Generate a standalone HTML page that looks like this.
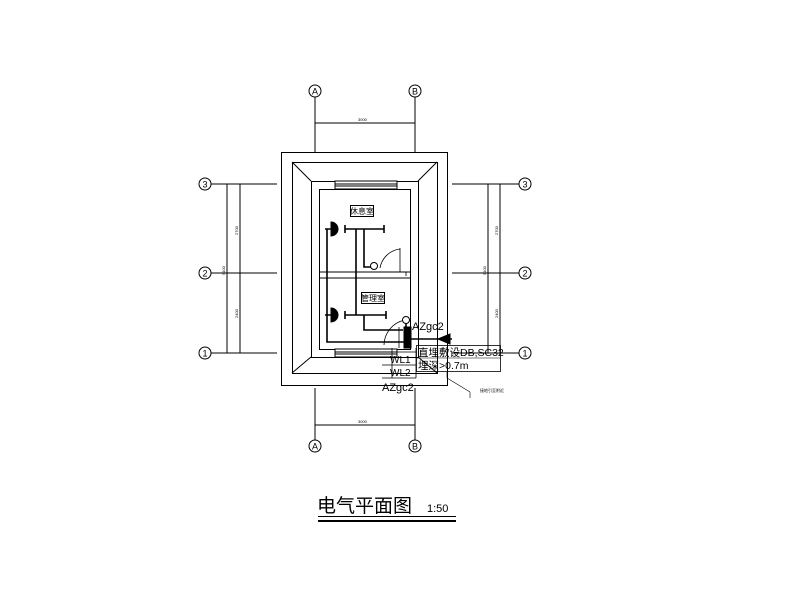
<!DOCTYPE html><html><head><meta charset="utf-8"><style>body{margin:0;background:#fff}svg{display:block}</style></head><body>
<svg width="800" height="600" viewBox="0 0 800 600" xmlns="http://www.w3.org/2000/svg" font-family="Liberation Sans, Noto Sans CJK SC, sans-serif" stroke="#000" fill="none" stroke-width="1">
<g font-size="9" text-anchor="middle">
<circle cx="315" cy="91" r="6"/><text x="315" y="94.5" stroke="none" fill="#000">A</text>
<circle cx="415" cy="91" r="6"/><text x="415" y="94.5" stroke="none" fill="#000">B</text>
<circle cx="315" cy="446" r="6"/><text x="315" y="449.5" stroke="none" fill="#000">A</text>
<circle cx="415" cy="446" r="6"/><text x="415" y="449.5" stroke="none" fill="#000">B</text>
<circle cx="205" cy="184" r="6"/><text x="205" y="187.5" stroke="none" fill="#000">3</text>
<circle cx="205" cy="273" r="6"/><text x="205" y="276.5" stroke="none" fill="#000">2</text>
<circle cx="205" cy="353" r="6"/><text x="205" y="356.5" stroke="none" fill="#000">1</text>
<circle cx="525" cy="184" r="6"/><text x="525" y="187.5" stroke="none" fill="#000">3</text>
<circle cx="525" cy="273" r="6"/><text x="525" y="276.5" stroke="none" fill="#000">2</text>
<circle cx="525" cy="353" r="6"/><text x="525" y="356.5" stroke="none" fill="#000">1</text>
</g>
<path d="M315 97V152M415 97V152M315 123H415M315 388V440M415 388V440M315 425H415"/>
<path d="M211 184H277M211 273H277M211 353H277M227 184V353M240 184V353"/>
<path d="M452 184H519M452 273H519M452 353H519M488 184V353M500 184V353"/>
<g font-size="4" fill="#000" stroke="none"><text x="358" y="121">3000</text><text x="358" y="423">3000</text>
<text transform="translate(238,235) rotate(-90)">2700</text><text transform="translate(238,318) rotate(-90)">2400</text><text transform="translate(225,275) rotate(-90)">5100</text>
<text transform="translate(498,235) rotate(-90)">2700</text><text transform="translate(498,318) rotate(-90)">2400</text><text transform="translate(486,275) rotate(-90)">5100</text></g>
<rect x="281.5" y="152.5" width="166" height="233"/>
<rect x="292.5" y="162.5" width="145" height="211"/>
<path d="M292 162L311 181M437 162L418 181M292 373L311 357M437 373L418 357"/>
<rect x="311.5" y="181.5" width="107" height="176"/>
<rect x="319.5" y="189.5" width="91" height="160"/>
<path d="M319 272H410M319 278H410"/>
<rect x="335" y="181" width="62" height="8" fill="#fff"/><path d="M335 184H397M335 186H397"/>
<rect x="335" y="349" width="62" height="8" fill="#fff"/><path d="M335 352H397M335 354H397"/>
<path d="M400 248V272M390 272H406M406 272V276M400 249A23 23 0 0 0 380 268" stroke-width="0.8"/>
<path d="M405 320A26 26 0 0 0 384 345" stroke-width="0.8"/>
<rect x="350.5" y="205.5" width="23" height="11"/><text x="362" y="214" font-size="8" text-anchor="middle" stroke="none" fill="#000">休息室</text>
<rect x="361.5" y="292.5" width="23" height="11"/><text x="373" y="301" font-size="8" text-anchor="middle" stroke="none" fill="#000">管理室</text>
<g stroke-width="1.6">
<path d="M345 229H384M345 225V233M384 225V233M356 229V315M364 229V267H372"/>
<path d="M345 315H386M345 311V319M386 311V319M364 315V330H403M406 322V327"/>
<path d="M325 229H331M325 315H331M327 229V342H404"/>
<path d="M411 339H452"/>
</g>
<path d="M331 222A7 7 0 0 1 331 236Z M331 308A7 7 0 0 1 331 322Z" fill="#000"/>
<circle cx="374" cy="266" r="3.5" fill="#fff"/>
<circle cx="406" cy="320" r="3.5" fill="#fff"/>
<rect x="404" y="327" width="7" height="21" fill="#000"/>
<path d="M399 327V348" stroke-width="0.8"/>
<path d="M438 339L450 334V344Z" fill="#000"/>
<path d="M392 348V378M382 352H416M382 365H416M382 378H416M416 348V378" stroke-width="0.8"/>
<rect x="416.5" y="345.5" width="84" height="26" stroke-width="0.8"/>
<path d="M416 358H500" stroke-width="0.6"/>
<path d="M447 372V378M447 378L470 392M470 392V398" stroke-width="0.6"/>
<g fill="#000" stroke="none">
<text x="412" y="330" font-size="11">AZgc2</text>
<text x="390" y="363" font-size="10">WL1</text>
<text x="390" y="376" font-size="10">WL2</text>
<text x="382" y="391" font-size="11">AZgc2</text>
<text x="418" y="356" font-size="10.5">直埋敷设DB,SC32</text>
<text x="418" y="369" font-size="10.5">埋深&gt;0.7m</text>
<text x="480" y="392" font-size="4">接地引至附近</text>
</g>
<text x="317" y="512" font-size="19" fill="#000" stroke="none">电气平面图</text>
<text x="427" y="512" font-size="11" fill="#000" stroke="none">1:50</text>
<path d="M318 516.5H456" stroke-width="1"/><path d="M318 521H456" stroke-width="2"/>
</svg>
</body></html>
